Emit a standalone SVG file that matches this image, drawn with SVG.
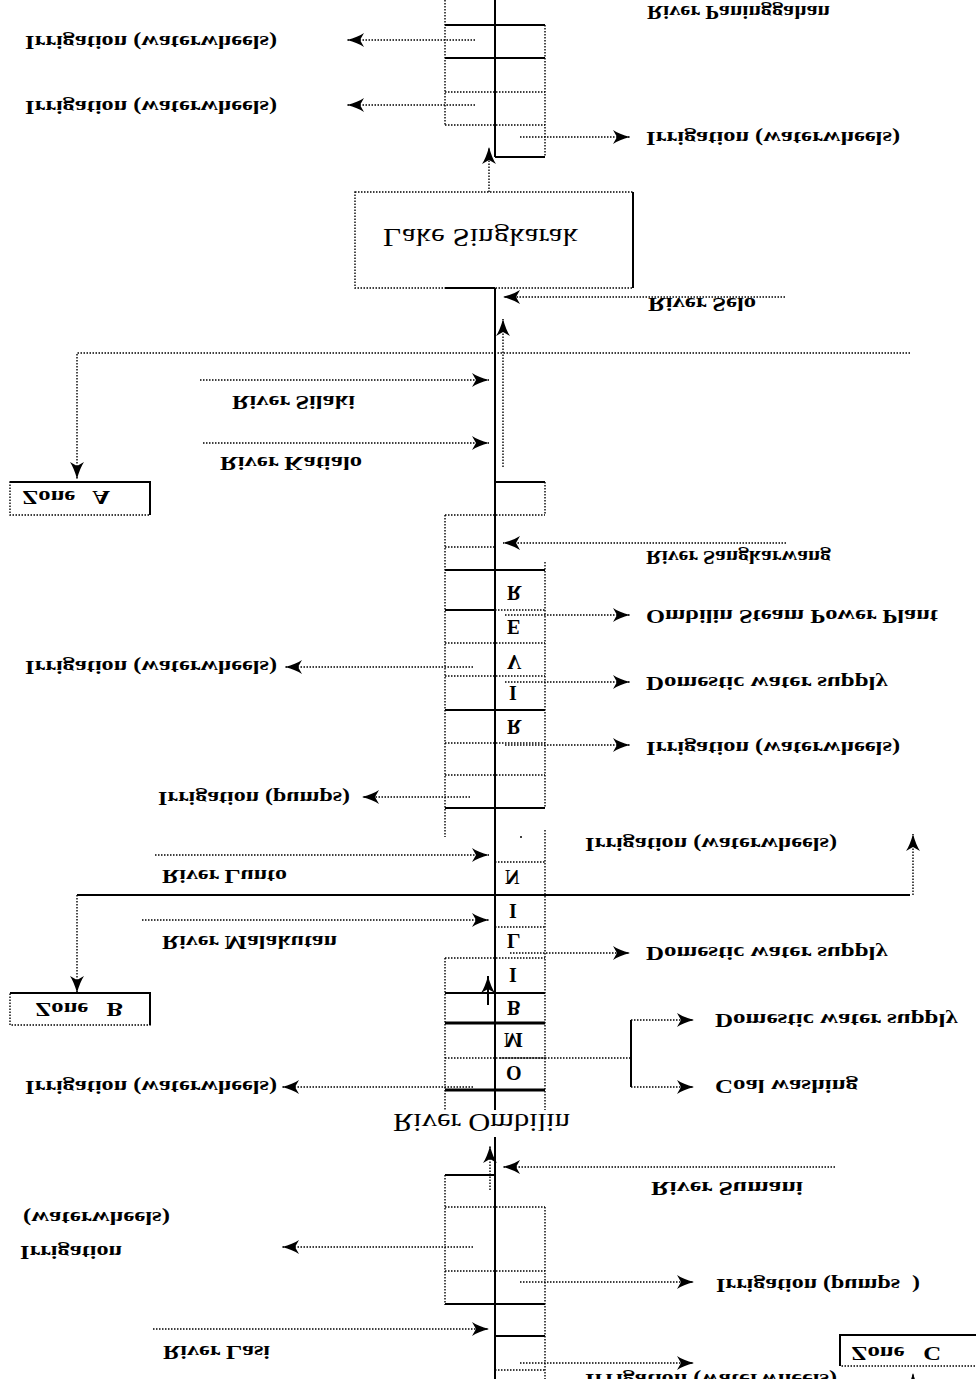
<svg xmlns="http://www.w3.org/2000/svg" width="976" height="1379" viewBox="0 0 976 1379">
<style>
.t{font-family:"Liberation Serif","Times New Roman",serif;font-size:19px;font-weight:bold;fill:#000;white-space:pre}
.big{font-size:25px;font-weight:normal}
.l{font-size:20px}
.d{stroke:#000;stroke-width:1.4;stroke-dasharray:1.5 1.5;fill:none}
.s{stroke:#000;stroke-width:2;fill:none}
.sb{stroke:#000;stroke-width:3;fill:none}
.a{marker-end:url(#ah)}
</style>
<defs>
<marker id="ah" viewBox="0 0 17 14" refX="17" refY="7" markerWidth="17" markerHeight="14" markerUnits="userSpaceOnUse" orient="auto">
<path d="M0,0 Q6,4 17,7 Q6,10 0,14 L4,7 z" fill="#000"/>
</marker>
</defs>
<rect width="976" height="1379" fill="#fff"/>

<g id="main-river">
<line class="s" x1="495" y1="0" x2="495" y2="157"/>
<line class="s" x1="495" y1="288" x2="495" y2="1110"/>
<line class="s" x1="495" y1="1137" x2="495" y2="1379"/>
</g>

<g id="upper-block">
<line class="d" x1="445" y1="0" x2="445" y2="125"/>
<line class="s" x1="445" y1="25" x2="545" y2="25"/>
<line class="s" x1="445" y1="58" x2="545" y2="58"/>
<line class="d" x1="445" y1="92" x2="545" y2="92"/>
<line class="d" x1="445" y1="125" x2="545" y2="125"/>
<line class="d" x1="545" y1="25" x2="545" y2="157"/>
<line class="s" x1="495" y1="157" x2="545" y2="157"/>
</g>

<g id="lake">
<rect class="d" x="355" y="192" width="278" height="96"/>
<line class="s" x1="633" y1="192" x2="633" y2="288"/>
<line class="s" x1="445" y1="288" x2="495" y2="288"/>
<text class="t big" transform="translate(383,229) scale(1,-1)" textLength="195" lengthAdjust="spacingAndGlyphs">Lake Singkarak</text>
</g>

<g id="zone-a">
<rect class="d" x="10" y="482" width="140" height="33"/>
<polyline class="s" points="10,482 150,482 150,515"/>
<text class="t" transform="translate(22,491) scale(1,-1)" textLength="88" lengthAdjust="spacingAndGlyphs">Zone   A</text>
</g>

<g id="river-block">
<line class="s" x1="495" y1="482" x2="545" y2="482"/>
<line class="d" x1="545" y1="482" x2="545" y2="515"/>
<line class="d" x1="445" y1="515" x2="545" y2="515"/>
<line class="d" x1="445" y1="515" x2="445" y2="837"/>
<line class="d" x1="445" y1="547" x2="495" y2="547"/>
<line class="s" x1="445" y1="570" x2="545" y2="570"/>
<line class="d" x1="545" y1="562" x2="545" y2="808"/>
<line class="s" x1="445" y1="610" x2="495" y2="610"/>
<line class="d" x1="495" y1="610" x2="545" y2="610"/>
<line class="d" x1="445" y1="643" x2="545" y2="643"/>
<line class="d" x1="445" y1="676" x2="545" y2="676"/>
<line class="s" x1="445" y1="710" x2="545" y2="710"/>
<line class="d" x1="445" y1="743" x2="545" y2="743"/>
<line class="d" x1="445" y1="775" x2="545" y2="775"/>
<line class="s" x1="445" y1="808" x2="545" y2="808"/>
<text class="t l" transform="translate(507,586) scale(1,-1)">R</text>
<text class="t l" transform="translate(507,620) scale(1,-1)">E</text>
<text class="t l" transform="translate(507,655) scale(1,-1)">V</text>
<text class="t l" transform="translate(509,686) scale(1,-1)">I</text>
<text class="t l" transform="translate(507,720) scale(1,-1)">R</text>
</g>

<g id="ombilin-block">
<circle cx="521" cy="837" r="1" fill="#000"/>
<line class="d" x1="545" y1="830" x2="545" y2="1110"/>
<line class="d" x1="495" y1="862" x2="545" y2="862"/>
<line class="d" x1="495" y1="927" x2="545" y2="927"/>
<line class="d" x1="445" y1="958" x2="545" y2="958"/>
<line class="d" x1="445" y1="958" x2="445" y2="1110"/>
<line class="s" x1="445" y1="993" x2="545" y2="993"/>
<line class="sb" x1="445" y1="1023" x2="545" y2="1023"/>
<line class="d" x1="445" y1="1058" x2="545" y2="1058"/>
<line class="sb" x1="445" y1="1090" x2="545" y2="1090"/>
<text class="t l" transform="translate(505,870) scale(1,-1)">N</text>
<text class="t l" transform="translate(509,904) scale(1,-1)">I</text>
<text class="t l" transform="translate(507,934) scale(1,-1)">L</text>
<text class="t l" transform="translate(509,968) scale(1,-1)">I</text>
<text class="t l" transform="translate(507,1001) scale(1,-1)">B</text>
<text class="t l" transform="translate(504,1033) scale(1,-1)">M</text>
<text class="t l" transform="translate(506,1066) scale(1,-1)">O</text>
<text class="t big" transform="translate(393,1114) scale(1,-1)" textLength="177" lengthAdjust="spacingAndGlyphs">River Ombilin</text>
</g>

<g id="zone-b">
<rect class="d" x="10" y="993" width="140" height="32"/>
<polyline class="s" points="10,993 150,993 150,1025"/>
<text class="t" transform="translate(35,1003) scale(1,-1)" textLength="88" lengthAdjust="spacingAndGlyphs">Zone   B</text>
</g>

<g id="lower-block">
<line class="d" x1="445" y1="1175" x2="445" y2="1305"/>
<line class="s" x1="445" y1="1175" x2="495" y2="1175"/>
<line class="d" x1="445" y1="1207" x2="545" y2="1207"/>
<line class="d" x1="545" y1="1207" x2="545" y2="1379"/>
<line class="d" x1="445" y1="1271" x2="545" y2="1271"/>
<line class="s" x1="445" y1="1304" x2="545" y2="1304"/>
<line class="s" x1="495" y1="1336" x2="545" y2="1336"/>
<line class="d" x1="495" y1="1370" x2="545" y2="1370"/>
</g>

<g id="zone-c">
<rect class="d" x="840" y="1335" width="145" height="31"/>
<polyline class="s" points="840,1366 840,1335 985,1335"/>
<text class="t" transform="translate(851,1347) scale(1,-1)" textLength="90" lengthAdjust="spacingAndGlyphs">Zone   C</text>
</g>

<g id="connectors">
<line class="d a" x1="475" y1="40" x2="347" y2="40"/>
<line class="d a" x1="475" y1="105" x2="347" y2="105"/>
<line class="d a" x1="520" y1="137" x2="630" y2="137"/>
<line class="d a" x1="489" y1="192" x2="489" y2="147"/>
<line class="d a" x1="785" y1="297" x2="503" y2="297"/>
<line class="d a" x1="503" y1="467" x2="503" y2="319"/>
<polyline class="d a" points="910,353 77,353 77,479"/>
<line class="d a" x1="200" y1="380" x2="489" y2="380"/>
<line class="d a" x1="203" y1="443" x2="489" y2="443"/>
<line class="d a" x1="786" y1="543" x2="503" y2="543"/>
<line class="d a" x1="505" y1="615" x2="630" y2="615"/>
<line class="d a" x1="505" y1="682" x2="630" y2="682"/>
<line class="d a" x1="505" y1="745" x2="630" y2="745"/>
<line class="d a" x1="473" y1="667" x2="285" y2="667"/>
<line class="d a" x1="470" y1="797" x2="362" y2="797"/>
<line class="d a" x1="155" y1="855" x2="489" y2="855"/>
<line class="s" x1="77" y1="895" x2="910" y2="895"/>
<line class="d a" x1="77" y1="895" x2="77" y2="993"/>
<line class="d a" x1="913" y1="895" x2="913" y2="834"/>
<line class="d a" x1="142" y1="920" x2="489" y2="920"/>
<line class="d a" x1="510" y1="953" x2="630" y2="953"/>
<line class="d" x1="500" y1="1058" x2="631" y2="1058"/>
<line class="s" x1="631" y1="1020" x2="631" y2="1087"/>
<line class="d a" x1="631" y1="1020" x2="694" y2="1020"/>
<line class="d a" x1="631" y1="1087" x2="694" y2="1087"/>
<line class="d a" x1="473" y1="1087" x2="282" y2="1087"/>
<line class="s a" x1="488" y1="1005" x2="488" y2="976"/>
<line class="d a" x1="490" y1="1190" x2="490" y2="1146"/>
<line class="d a" x1="835" y1="1167" x2="503" y2="1167"/>
<line class="d a" x1="473" y1="1247" x2="282" y2="1247"/>
<line class="d a" x1="520" y1="1282" x2="694" y2="1282"/>
<line class="d a" x1="153" y1="1329" x2="489" y2="1329"/>
<line class="d a" x1="520" y1="1363" x2="694" y2="1363"/>
<line class="d a" x1="913" y1="1400" x2="913" y2="1373"/>
</g>

<g id="labels">
<text class="t" transform="translate(647,6) scale(1,-1)" textLength="183" lengthAdjust="spacingAndGlyphs">River Paninggahan</text>
<text class="t" transform="translate(25,36) scale(1,-1)" textLength="252" lengthAdjust="spacingAndGlyphs">Irrigation (waterwheels)</text>
<text class="t" transform="translate(25,101) scale(1,-1)" textLength="252" lengthAdjust="spacingAndGlyphs">Irrigation (waterwheels)</text>
<text class="t" transform="translate(646,132) scale(1,-1)" textLength="254" lengthAdjust="spacingAndGlyphs">Irrigation (waterwheels)</text>
<text class="t" transform="translate(648,298) scale(1,-1)" textLength="108" lengthAdjust="spacingAndGlyphs">River Selo</text>
<text class="t" transform="translate(232,396) scale(1,-1)" textLength="123" lengthAdjust="spacingAndGlyphs">River Silaki</text>
<text class="t" transform="translate(220,457) scale(1,-1)" textLength="142" lengthAdjust="spacingAndGlyphs">River Katialo</text>
<text class="t" transform="translate(646,551) scale(1,-1)" textLength="185" lengthAdjust="spacingAndGlyphs">River Sangkarwang</text>
<text class="t" transform="translate(646,610) scale(1,-1)" textLength="292" lengthAdjust="spacingAndGlyphs">Ombilin Steam Power Plant</text>
<text class="t" transform="translate(646,677) scale(1,-1)" textLength="242" lengthAdjust="spacingAndGlyphs">Domestic water supply</text>
<text class="t" transform="translate(646,742) scale(1,-1)" textLength="254" lengthAdjust="spacingAndGlyphs">Irrigation (waterwheels)</text>
<text class="t" transform="translate(25,661) scale(1,-1)" textLength="252" lengthAdjust="spacingAndGlyphs">Irrigation (waterwheels)</text>
<text class="t" transform="translate(158,792) scale(1,-1)" textLength="192" lengthAdjust="spacingAndGlyphs">Irrigation (pumps)</text>
<text class="t" transform="translate(585,838) scale(1,-1)" textLength="252" lengthAdjust="spacingAndGlyphs">Irrigation (waterwheels)</text>
<text class="t" transform="translate(162,870) scale(1,-1)" textLength="125" lengthAdjust="spacingAndGlyphs">River Lunto</text>
<text class="t" transform="translate(162,936) scale(1,-1)" textLength="175" lengthAdjust="spacingAndGlyphs">River Malakutan</text>
<text class="t" transform="translate(646,947) scale(1,-1)" textLength="242" lengthAdjust="spacingAndGlyphs">Domestic water supply</text>
<text class="t" transform="translate(715,1014) scale(1,-1)" textLength="243" lengthAdjust="spacingAndGlyphs">Domestic water supply</text>
<text class="t" transform="translate(715,1080) scale(1,-1)" textLength="143" lengthAdjust="spacingAndGlyphs">Coal washing</text>
<text class="t" transform="translate(25,1081) scale(1,-1)" textLength="252" lengthAdjust="spacingAndGlyphs">Irrigation (waterwheels)</text>
<text class="t" transform="translate(651,1182) scale(1,-1)" textLength="152" lengthAdjust="spacingAndGlyphs">River Sumani</text>
<text class="t" transform="translate(23,1212) scale(1,-1)" textLength="147" lengthAdjust="spacingAndGlyphs">(waterwheels)</text>
<text class="t" transform="translate(20,1246) scale(1,-1)" textLength="102" lengthAdjust="spacingAndGlyphs">Irrigation</text>
<text class="t" transform="translate(716,1279) scale(1,-1)" textLength="204" lengthAdjust="spacingAndGlyphs">Irrigation (pumps  )</text>
<text class="t" transform="translate(163,1346) scale(1,-1)" textLength="107" lengthAdjust="spacingAndGlyphs">River Lasi</text>
<text class="t" transform="translate(585,1374) scale(1,-1)" textLength="252" lengthAdjust="spacingAndGlyphs">Irrigation (waterwheels)</text>
</g>
</svg>
